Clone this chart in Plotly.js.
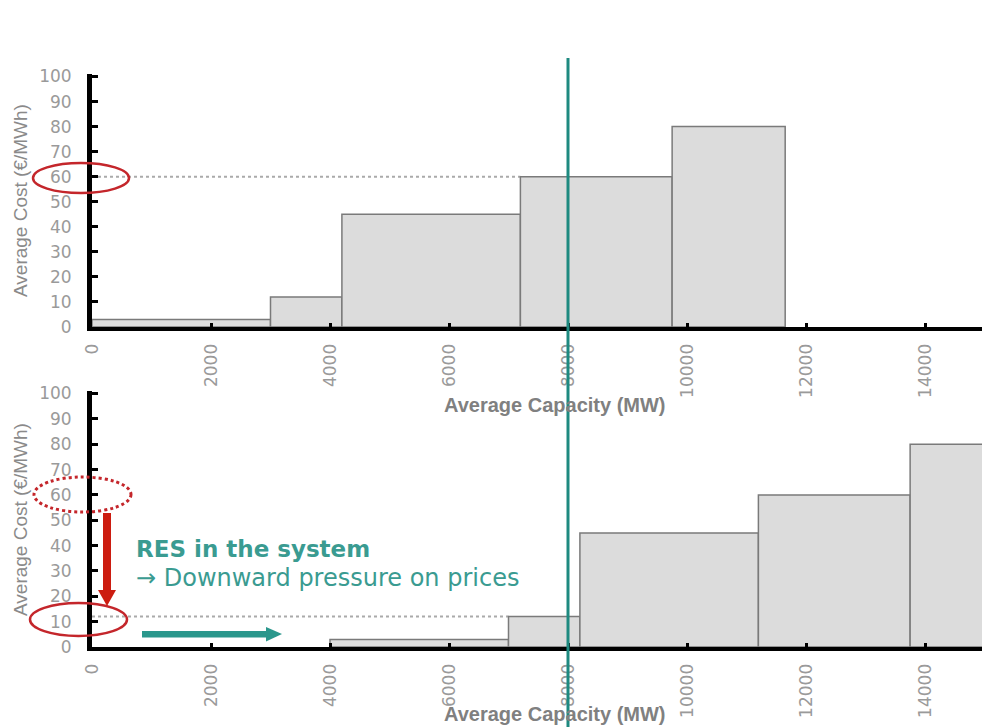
<!DOCTYPE html>
<html>
<head>
<meta charset="utf-8">
<script src="https://cdn.plot.ly/plotly-3.0.1.min.js"></script>
<style>html,body{margin:0;padding:0;background:#fff;}#chart{width:982px;height:727px;}</style>
</head>
<body>
<div id="chart"></div>
<script>
// ---- data ----
const topStart = [0, 3000, 4200, 7200, 9750];
const topEnd   = [3000, 4200, 7200, 9750, 11650];
const topCost  = [3, 12, 45, 60, 80];
const botStart = [4000, 7000, 8200, 11200, 13750];
const botEnd   = [7000, 8200, 11200, 13750, 15650];
const botCost  = [3, 12, 45, 60, 80];
const xTickVals = [0, 2000, 4000, 6000, 8000, 10000, 12000, 14000];
const yTickVals = [0, 10, 20, 30, 40, 50, 60, 70, 80, 90, 100];
const demandMW = 8000;
const topPrice = 60;
const botPrice = 12;
const xTitle = "Average Capacity (MW)";
const yTitle = "Average Cost (€/MWh)";
const noteLine1 = "RES in the system";
const noteLine2 = "→ Downward pressure on prices";

// ---- layout helpers (pixel -> paper) ----
const W = 982, H = 727;
const px = v => v / W;
const py = v => 1 - v / H;

function barTrace(starts, ends, costs, xa, ya) {
  return {
    type: 'bar',
    x: starts.map((s, i) => (s + ends[i]) / 2),
    width: starts.map((s, i) => ends[i] - s),
    y: costs,
    xaxis: xa, yaxis: ya,
    marker: {color: '#dcdcdc', line: {color: '#7a7a7a', width: 1.5}},
    hoverinfo: 'skip', showlegend: false
  };
}

const tickFont = {family: 'DejaVu Sans', size: 17, color: '#9a9a9a'};
const xRange = [0, (W - 92) / 59.5 * 1000];

function xAxis(anchor) {
  return {
    domain: [px(92), 1], range: xRange, anchor: anchor,
    tickmode: 'array', tickvals: xTickVals, ticktext: xTickVals.map(String),
    tickangle: -90, tickfont: tickFont, ticks: 'inside', ticklen: 4, tickwidth: 3, tickcolor: '#000',
    showline: true, linecolor: '#000', linewidth: 4, showgrid: false, zeroline: false,
    ticklabelstandoff: 6, fixedrange: true
  };
}
function yAxis(anchor, d0, d1) {
  return {
    domain: [d0, d1], range: [0, 101], anchor: anchor,
    tickmode: 'array', tickvals: yTickVals, ticktext: yTickVals.map(String),
    tickfont: tickFont, ticks: 'inside', ticklen: 6, tickwidth: 3, tickcolor: '#000',
    showline: true, linecolor: '#000', linewidth: 5, showgrid: false, zeroline: false,
    ticklabelstandoff: 12, fixedrange: true
  };
}

const data = [
  barTrace(topStart, topEnd, topCost, 'x', 'y'),
  barTrace(botStart, botEnd, botCost, 'x2', 'y2')
];

const red = '#c4262b';
const teal = '#2a978c';

const shapes = [
  {type: 'line', xref: 'x', yref: 'y', x0: 0, x1: topStart[3], y0: topPrice, y1: topPrice,
   line: {color: '#aaaaaa', width: 2, dash: 'dot'}, layer: 'below'},
  {type: 'line', xref: 'x2', yref: 'y2', x0: 0, x1: botStart[1], y0: botPrice, y1: botPrice,
   line: {color: '#aaaaaa', width: 2, dash: 'dot'}, layer: 'below'},
  {type: 'line', xref: 'x', yref: 'paper', x0: demandMW, x1: demandMW, y0: 0, y1: py(58),
   line: {color: '#1e8a80', width: 3}, layer: 'above'},
  {type: 'circle', xref: 'paper', yref: 'paper', x0: px(33), x1: px(129), y0: py(193), y1: py(163),
   line: {color: red, width: 2.5}},
  {type: 'circle', xref: 'paper', yref: 'paper', x0: px(34), x1: px(131), y0: py(512), y1: py(477),
   line: {color: red, width: 3, dash: 'dot'}},
  {type: 'circle', xref: 'paper', yref: 'paper', x0: px(30), x1: px(127), y0: py(636), y1: py(603),
   line: {color: red, width: 2.5}},
  {type: 'rect', xref: 'paper', yref: 'paper', x0: px(103), x1: px(111), y0: py(592), y1: py(513),
   fillcolor: '#cc1c10', line: {width: 0}},
  {type: 'path', xref: 'paper', yref: 'paper',
   path: `M ${px(98)} ${py(590)} L ${px(116)} ${py(590)} L ${px(107)} ${py(606)} Z`,
   fillcolor: '#cc1c10', line: {width: 0}},
  {type: 'rect', xref: 'paper', yref: 'paper', x0: px(142), x1: px(268), y0: py(637.5), y1: py(631),
   fillcolor: teal, line: {width: 0}},
  {type: 'path', xref: 'paper', yref: 'paper',
   path: `M ${px(266)} ${py(627)} L ${px(266)} ${py(641.5)} L ${px(282)} ${py(634)} Z`,
   fillcolor: teal, line: {width: 0}}
];

const titleFont = {family: 'Liberation Sans', size: 20, color: '#808080'};
const yTitleFont = {family: 'Liberation Sans', size: 19, color: '#8a8a8a'};
const note1Font = {family: 'DejaVu Sans', size: 23, color: '#3a9b91'};
const note2Font = {family: 'DejaVu Sans', size: 24, color: '#3a9b91'};

const annotations = [
  {xref: 'paper', yref: 'paper', x: px(555), y: py(405), text: '<b>' + xTitle + '</b>',
   showarrow: false, xanchor: 'center', yanchor: 'middle', font: titleFont},
  {xref: 'paper', yref: 'paper', x: px(555), y: py(714), text: '<b>' + xTitle + '</b>',
   showarrow: false, xanchor: 'center', yanchor: 'middle', font: titleFont},
  {xref: 'paper', yref: 'paper', x: px(20), y: py(201), text: yTitle, textangle: -90,
   showarrow: false, xanchor: 'center', yanchor: 'middle', font: yTitleFont},
  {xref: 'paper', yref: 'paper', x: px(20), y: py(520), text: yTitle, textangle: -90,
   showarrow: false, xanchor: 'center', yanchor: 'middle', font: yTitleFont},
  {xref: 'paper', yref: 'paper', x: px(134), y: py(549), text: '<b>' + noteLine1 + '</b>',
   showarrow: false, xanchor: 'left', yanchor: 'middle', font: note1Font},
  {xref: 'paper', yref: 'paper', x: px(134), y: py(578), text: noteLine2,
   showarrow: false, xanchor: 'left', yanchor: 'middle', font: note2Font}
];

const layout = {
  width: W, height: H, autosize: false,
  margin: {l: 0, r: 0, t: 0, b: 0, pad: 0},
  paper_bgcolor: '#ffffff', plot_bgcolor: '#ffffff',
  showlegend: false, barmode: 'overlay',
  xaxis: xAxis('y'),
  yaxis: yAxis('x', py(327), py(74)),
  xaxis2: xAxis('y2'),
  yaxis2: yAxis('x2', py(647), py(391)),
  shapes: shapes,
  annotations: annotations
};

Plotly.newPlot('chart', data, layout, {displayModeBar: false, staticPlot: true});
</script>
</body>
</html>
